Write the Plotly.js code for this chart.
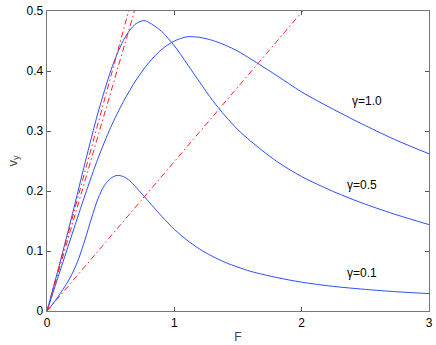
<!DOCTYPE html>
<html>
<head>
<meta charset="utf-8">
<script src="https://cdn.plot.ly/plotly-3.0.1.min.js"></script>
<style>body{margin:0;background:#fff}#chart{width:436px;height:345px}</style>
</head>
<body>
<div id="chart"></div>
<script>
// vy against F for three damping values
var F_g10 = [0, 0.1, 0.2, 0.3, 0.4, 0.5, 0.6, 0.7, 0.8, 0.9, 1.0, 1.1, 1.2, 1.3, 1.4, 1.5, 1.6, 1.8, 2.0, 2.25, 2.5, 2.75, 3.0];
var v_g10 = [0, 0.065, 0.13, 0.194, 0.254, 0.306, 0.349, 0.385, 0.414, 0.436, 0.45, 0.457, 0.456, 0.451, 0.443, 0.433, 0.42, 0.393, 0.365, 0.336, 0.309, 0.284, 0.262];

var F_g05 = [0, 0.1, 0.2, 0.3, 0.4, 0.5, 0.55, 0.6, 0.65, 0.7, 0.76, 0.8, 0.9, 1.0, 1.1, 1.2, 1.3, 1.4, 1.5, 1.6, 1.8, 2.0, 2.25, 2.5, 2.75, 3.0];
var v_g05 = [0, 0.079, 0.162, 0.248, 0.33, 0.4, 0.428, 0.451, 0.468, 0.479, 0.484, 0.481, 0.466, 0.442, 0.412, 0.381, 0.351, 0.325, 0.302, 0.283, 0.25, 0.224, 0.199, 0.178, 0.16, 0.144];

var F_g01 = [0, 0.05, 0.1, 0.15, 0.2, 0.25, 0.3, 0.35, 0.4, 0.45, 0.5, 0.55, 0.6, 0.65, 0.7, 0.8, 0.9, 1.0, 1.1, 1.2, 1.3, 1.4, 1.5, 1.6, 1.8, 2.0, 2.25, 2.5, 2.75, 3.0];
var v_g01 = [0, 0.013, 0.028, 0.044, 0.063, 0.088, 0.12, 0.155, 0.187, 0.209, 0.221, 0.226, 0.224, 0.217, 0.206, 0.182, 0.158, 0.136, 0.118, 0.103, 0.091, 0.081, 0.073, 0.066, 0.056, 0.048, 0.041, 0.036, 0.032, 0.029];

// straight reference lines through the origin (slopes)
var lineSlopes = [0.78, 0.728, 0.249];
var lineF = [0, 3];

var labels = ['γ=1.0', 'γ=0.5', 'γ=0.1'];
var labelF = [2.51, 2.47, 2.47];
var labelV = [0.35, 0.21, 0.064];

var blue = {color: '#2a4dff', width: 1, shape: 'spline', smoothing: 0.8};

var data = [
  {x: F_g10, y: v_g10, mode: 'lines', line: blue},
  {x: F_g05, y: v_g05, mode: 'lines', line: blue},
  {x: F_g01, y: v_g01, mode: 'lines', line: blue}
];
lineSlopes.forEach(function (k) {
  data.push({x: lineF, y: lineF.map(function (f) { return k * f; }), mode: 'lines',
    line: {color: '#ff2020', width: 1, dash: '6px,3px,1.5px,3px'}});
});

var ax = {
  showgrid: false, zeroline: false, showline: true, mirror: 'allticks',
  linecolor: '#777', linewidth: 1.3, ticks: 'inside', ticklen: 4, tickcolor: '#555',
  tickfont: {family: 'Liberation Sans, Arial, sans-serif', size: 12, color: '#000'}
};

var layout = {
  width: 436, height: 345,
  margin: {l: 47, r: 7, t: 11, b: 34},
  paper_bgcolor: '#fff', plot_bgcolor: '#fff',
  showlegend: false,
  xaxis: Object.assign({}, ax, {range: [0, 3], tickvals: [0, 1, 2, 3],
    title: {text: 'F', standoff: 4, font: {family: 'Liberation Sans, Arial, sans-serif', size: 12}}}),
  yaxis: Object.assign({}, ax, {range: [0, 0.5], tickvals: [0, 0.1, 0.2, 0.3, 0.4, 0.5],
    ticktext: ['0', '0.1', '0.2', '0.3', '0.4', '0.5'],
    title: {text: 'v<sub>y</sub>', standoff: 6, font: {family: 'Liberation Sans, Arial, sans-serif', size: 13}}}),
  annotations: labels.map(function (t, i) {
    return {x: labelF[i], y: labelV[i], text: t, showarrow: false,
      font: {family: 'Liberation Sans, Arial, sans-serif', size: 12, color: '#000'}};
  })
};

Plotly.newPlot('chart', data, layout, {staticPlot: true});
</script>
</body>
</html>
